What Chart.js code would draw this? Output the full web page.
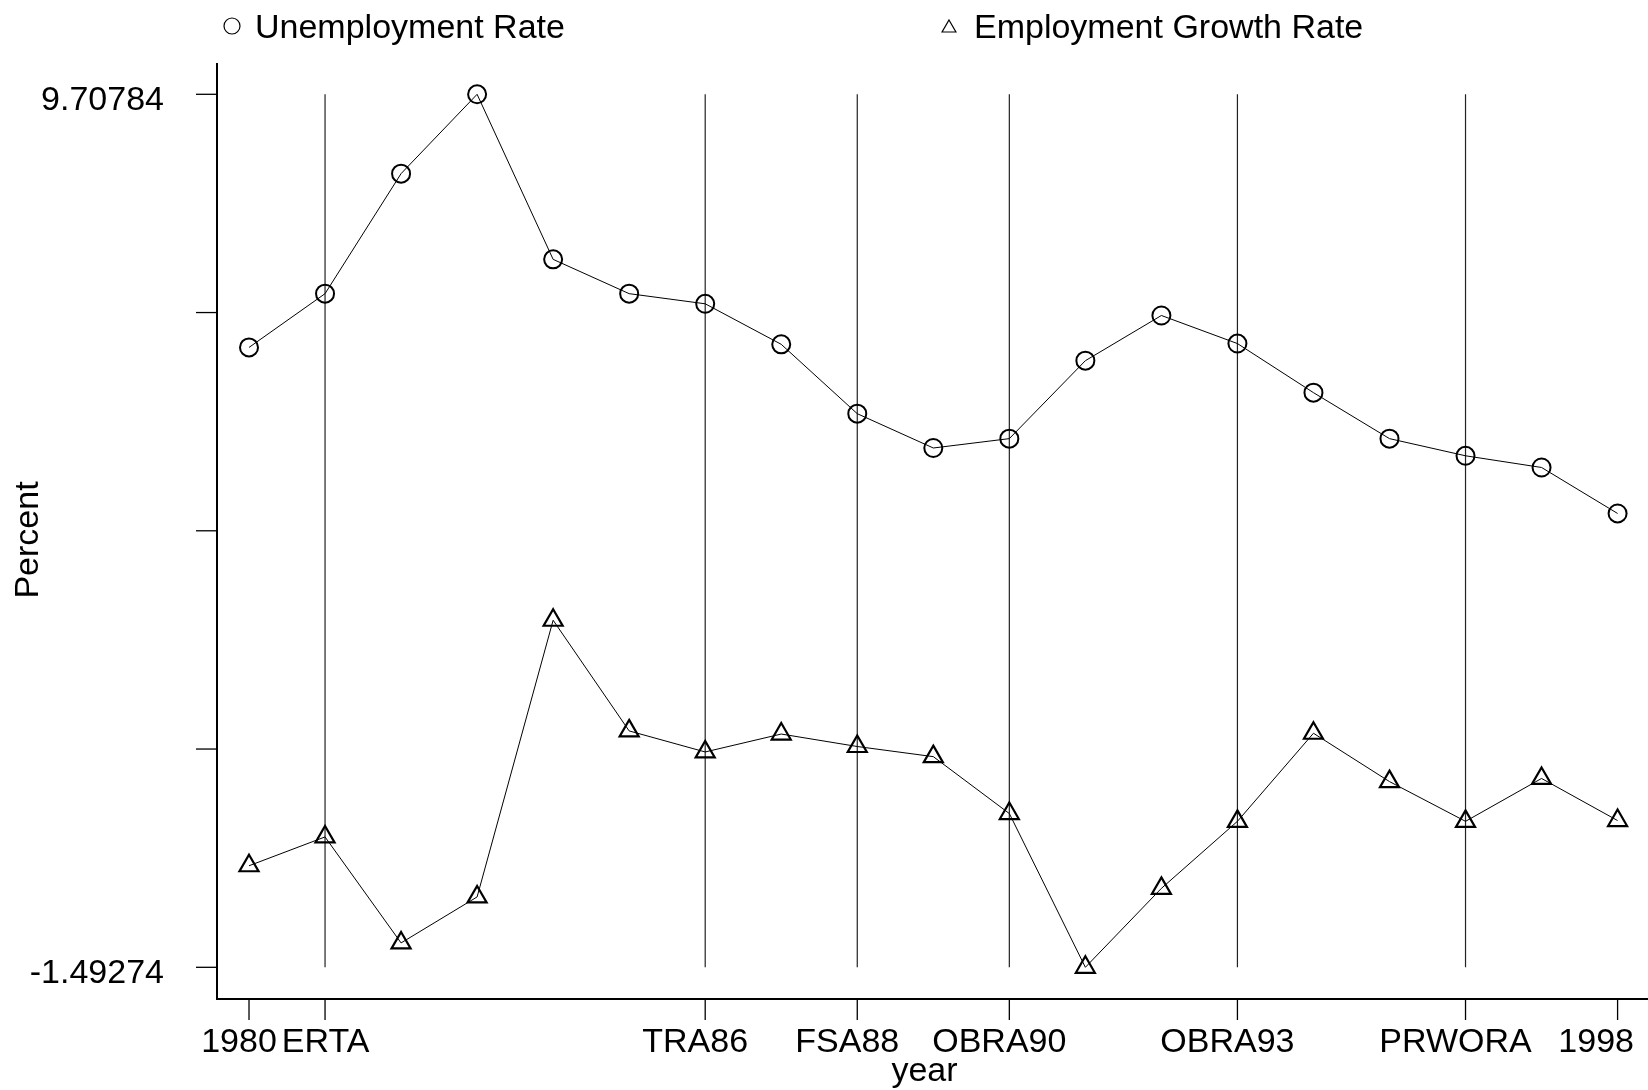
<!DOCTYPE html>
<html>
<head>
<meta charset="utf-8">
<title>Unemployment and Employment Growth</title>
<script src="https://cdn.jsdelivr.net/npm/chart.js@4.4.1/dist/chart.umd.min.js"></script>
<style>
  html, body { margin: 0; padding: 0; background: #fff; }
  canvas { display: block; }
</style>
</head>
<body>
<canvas id="chart" width="1648" height="1090"></canvas>
<script>
const years = [1980, 1981, 1982, 1983, 1984, 1985, 1986, 1987, 1988, 1989,
               1990, 1991, 1992, 1993, 1994, 1995, 1996, 1997, 1998];
const unemploymentRate = [6.46, 7.15, 8.69, 9.70784, 7.59, 7.15, 7.02, 6.50, 5.61, 5.17,
                          5.29, 6.29, 6.87, 6.51, 5.88, 5.29, 5.07, 4.92, 4.33];
const employmentGrowth = [-0.19, 0.18, -1.18, -0.59, 2.96, 1.54, 1.27, 1.50, 1.34, 1.21,
                          0.48, -1.49274, -0.48, 0.38, 1.51, 0.89, 0.38, 0.93, 0.39];

// policy years get a vertical line and a named tick
const policyYears = [1981, 1986, 1988, 1990, 1993, 1996];
const xTickValues = [1980, 1981, 1986, 1988, 1990, 1993, 1996, 1998];
const xTickLabels = ['1980', 'ERTA', 'TRA86', 'FSA88', 'OBRA90', 'OBRA93', 'PRWORA', '1998'];

// y axis: 5 evenly spaced ticks, only the ends labelled
const yTickValues = [-1.49274, 1.30755, 4.10769, 6.90770, 9.70784];
const yTickLabels = ['-1.49274', '', '', '', '9.70784'];

const seriesNames = ['Unemployment Rate', 'Employment Growth Rate'];

const FONT = '34px "Liberation Sans", Arial, Helvetica, sans-serif';

function drawMarker(ctx, style, x, y, r) {
  ctx.beginPath();
  if (style === 'circle') {
    ctx.arc(x, y, r, 0, Math.PI * 2);
  } else {
    ctx.moveTo(x, y - r);
    ctx.lineTo(x + r * 0.866, y + r / 2);
    ctx.lineTo(x - r * 0.866, y + r / 2);
    ctx.closePath();
  }
  ctx.stroke();
}

const frame = {
  id: 'frame',
  beforeDatasetsDraw(chart) {
    const { ctx, scales: { x, y } } = chart;
    const top = y.getPixelForValue(yTickValues[yTickValues.length - 1]);
    const bottom = y.getPixelForValue(yTickValues[0]);
    ctx.save();
    ctx.strokeStyle = '#222';
    ctx.lineWidth = 1.2;
    policyYears.forEach(yr => {
      const px = x.getPixelForValue(yr);
      ctx.beginPath();
      ctx.moveTo(px, top);
      ctx.lineTo(px, bottom);
      ctx.stroke();
    });
    ctx.restore();
  },
  afterDraw(chart) {
    const { ctx, chartArea: area, scales: { x, y } } = chart;
    ctx.save();
    ctx.strokeStyle = '#000';
    ctx.fillStyle = '#000';

    // axis lines
    ctx.lineWidth = 2;
    ctx.beginPath();
    ctx.moveTo(area.left, area.top);
    ctx.lineTo(area.left, area.bottom);
    ctx.lineTo(chart.width, area.bottom);
    ctx.stroke();

    // y ticks and labels
    ctx.lineWidth = 1.3;
    ctx.font = FONT;
    ctx.textAlign = 'right';
    ctx.textBaseline = 'middle';
    yTickValues.forEach((v, i) => {
      const py = y.getPixelForValue(v);
      ctx.beginPath();
      ctx.moveTo(area.left - 21, py);
      ctx.lineTo(area.left, py);
      ctx.stroke();
      if (yTickLabels[i]) ctx.fillText(yTickLabels[i], area.left - 53, py + 6);
    });

    // x ticks and labels, kept apart and inside the canvas
    ctx.textAlign = 'left';
    ctx.textBaseline = 'alphabetic';
    let prevRight = -Infinity;
    xTickValues.forEach((v, i) => {
      const px = x.getPixelForValue(v);
      ctx.beginPath();
      ctx.moveTo(px, area.bottom);
      ctx.lineTo(px, area.bottom + 21);
      ctx.stroke();
      const w = ctx.measureText(xTickLabels[i]).width;
      let left = px - 10 - w / 2;
      if (left < prevRight + 5) left = prevRight + 5;
      if (left + w > chart.width - 14) left = chart.width - 14 - w;
      ctx.fillText(xTickLabels[i], left, area.bottom + 53);
      prevRight = left + w;
    });

    // axis titles
    ctx.textAlign = 'center';
    ctx.fillText('year', (area.left + area.right) / 2 - 8, area.bottom + 82);
    ctx.save();
    ctx.translate(38, 540);
    ctx.rotate(-Math.PI / 2);
    ctx.fillText('Percent', 0, 0);
    ctx.restore();

    // legend
    ctx.textAlign = 'left';
    ctx.lineWidth = 1.2;
    const legend = [
      { style: 'circle', mx: 232, tx: 255 },
      { style: 'triangle', mx: 949, tx: 974 }
    ];
    legend.forEach((item, i) => {
      drawMarker(ctx, item.style, item.mx, item.style === 'circle' ? 26 : 28, 8);
      ctx.fillText(seriesNames[i], item.tx, 38);
    });
    ctx.restore();
  }
};

const ctx = document.getElementById('chart');
new Chart(ctx, {
  type: 'line',
  data: {
    datasets: [
      {
        label: seriesNames[0],
        data: years.map((yr, i) => ({ x: yr, y: unemploymentRate[i] })),
        borderColor: '#000',
        borderWidth: 1,
        pointStyle: 'circle',
        pointRadius: 9,
        pointBorderWidth: 2,
        pointBorderColor: '#000',
        pointBackgroundColor: 'rgba(0,0,0,0)',
        tension: 0
      },
      {
        label: seriesNames[1],
        data: years.map((yr, i) => ({ x: yr, y: employmentGrowth[i] })),
        borderColor: '#000',
        borderWidth: 1,
        pointStyle: 'triangle',
        pointRadius: 11,
        pointBorderWidth: 2.2,
        pointBorderColor: '#000',
        pointBackgroundColor: 'rgba(0,0,0,0)',
        tension: 0
      }
    ]
  },
  options: {
    responsive: false,
    animation: false,
    devicePixelRatio: 1,
    layout: {
      autoPadding: false,
      padding: { left: 217, top: 63, right: 0, bottom: 91 }
    },
    scales: {
      x: { type: 'linear', display: false, min: 1979.579, max: 1998.40 },
      y: { type: 'linear', display: false, min: -1.8994, max: 10.1094 }
    },
    plugins: {
      legend: { display: false },
      tooltip: { enabled: false }
    }
  },
  plugins: [frame]
});
</script>
</body>
</html>
